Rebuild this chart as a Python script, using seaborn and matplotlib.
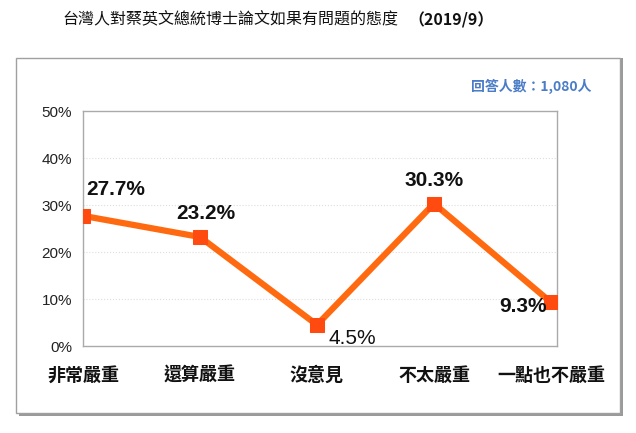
import matplotlib
matplotlib.use("Agg")
import matplotlib.pyplot as plt
import seaborn as sns
import pandas as pd
from matplotlib.patches import Rectangle
from matplotlib import font_manager

categories = ["非常嚴重", "還算嚴重", "沒意見", "不太嚴重", "一點也不嚴重"]
values = [27.7, 23.2, 4.5, 30.3, 9.3]
yticks = [0, 10, 20, 30, 40, 50]
ytick_labels = ["0%", "10%", "20%", "30%", "40%", "50%"]

sns.set_theme(style="white")
plt.rcParams['font.family'] = ['Noto Sans CJK TC', 'DejaVu Sans']

names = {f.name for f in font_manager.fontManager.ttflist}
label_font = "Liberation Sans Narrow" if "Liberation Sans Narrow" in names else "Liberation Sans"

fig = plt.figure(figsize=(6.36, 4.33), dpi=100)

# outer frame with shadow
fig.patches.append(Rectangle((0.030, 0.040), 0.950, 0.825, transform=fig.transFigure,
                             facecolor="#9a9a9a", edgecolor="none", zorder=0))
fig.patches.append(Rectangle((0.025, 0.047), 0.950, 0.820, transform=fig.transFigure,
                             facecolor="white", edgecolor="#a0a0a0", lw=1.0, zorder=1))

ax = fig.add_axes([0.1305, 0.2009, 0.745, 0.5427])
ax.set_zorder(2)
df = pd.DataFrame({"cat": range(len(categories)), "val": values})
sns.lineplot(data=df, x="cat", y="val", ax=ax, color="#FF6A10", lw=4.5,
             marker="s", markersize=10, markerfacecolor="#FF4A10",
             markeredgecolor="#FF4A10", zorder=3)

ax.set_xlim(0, 4.05)
ax.set_ylim(0, 50)
ax.set_yticks(yticks)
ax.set_yticklabels(ytick_labels, fontsize=11, color="#222222", family="Liberation Sans")
ax.set_xticks(range(len(categories)))
ax.set_xticklabels(categories, fontsize=13, fontweight="bold", color="#111111")
ax.tick_params(axis="x", pad=14, length=0)
ax.tick_params(axis="y", pad=8, length=0)
ax.set_xlabel("")
ax.set_ylabel("")
for y in yticks[1:-1]:
    ax.axhline(y, color="#dddddd", lw=0.8, ls=":", zorder=1)
for s in ["left", "bottom", "top", "right"]:
    ax.spines[s].set_color("#aaaaaa")
    ax.spines[s].set_linewidth(1.0)

# data labels
lab = dict(fontsize=15, family=label_font, color="#111111")
ax.annotate("27.7%", (0, values[0]), xytext=(2, 12), textcoords="offset points",
            ha="left", va="bottom", fontweight="bold", **lab)
ax.annotate("23.2%", (1, values[1]), xytext=(4, 10), textcoords="offset points",
            ha="center", va="bottom", fontweight="bold", **lab)
ax.annotate("4.5%", (2, values[2]), xytext=(8, -3), textcoords="offset points",
            ha="left", va="top", **lab)
ax.annotate("30.3%", (3, values[3]), xytext=(0, 10), textcoords="offset points",
            ha="center", va="bottom", fontweight="bold", **lab)
ax.annotate("9.3%", (4, values[4]), xytext=(-3, -3), textcoords="offset points",
            ha="right", va="center", fontweight="bold", **lab)

# title
fig.text(62 / 636, 0.954, "台灣人對蔡英文總統博士論文如果有問題的態度", ha="left", va="center",
         fontsize=11.5, color="#111111")
fig.text(408 / 636, 0.954, "（2019/9）", ha="left", va="center", fontsize=11.5,
         fontweight="bold", color="#111111")
fig.text(0.93, 0.80, "回答人數：1,080人", ha="right", va="center", fontsize=10,
         fontweight="bold", color="#4a7cc7")

fig.savefig("out.png", dpi=100)
